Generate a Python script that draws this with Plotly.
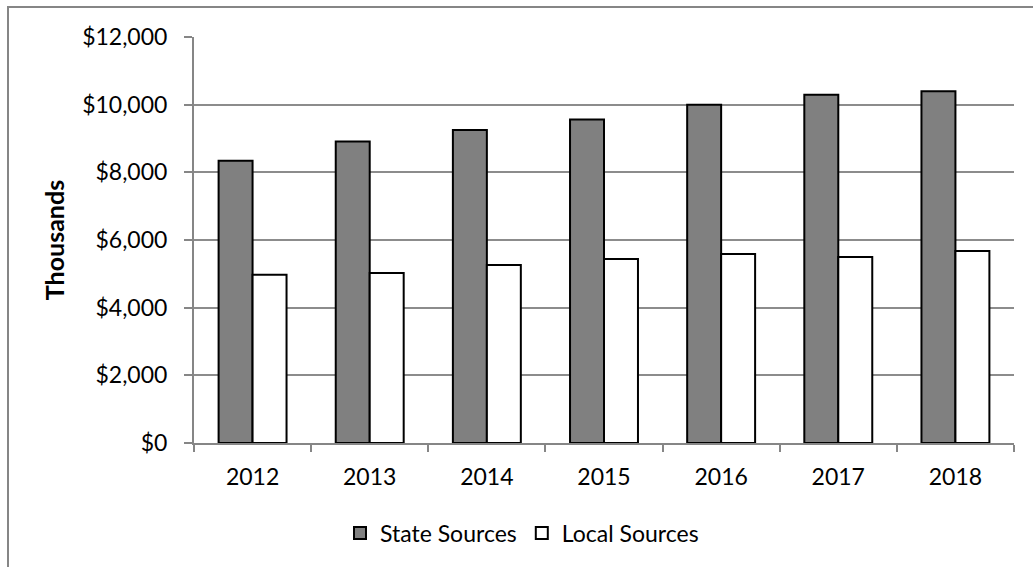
import plotly.graph_objects as go

years = ["2012", "2013", "2014", "2015", "2016", "2017", "2018"]
state_sources = [8340, 8910, 9250, 9565, 9995, 10295, 10395]
local_sources = [4975, 5025, 5262, 5439, 5585, 5498, 5676]
y_ticks = [0, 2000, 4000, 6000, 8000, 10000, 12000]
y_tick_labels = ["$0", "$2,000", "$4,000", "$6,000", "$8,000", "$10,000", "$12,000"]

FONT = "Lato"
W, H = 1033, 567
L, R, T, B = 194, 19, 37, 124
pw = W - L - R
ph = H - T - B

fig = go.Figure()
fig.add_trace(go.Bar(x=years, y=state_sources, name="State Sources",
                     marker=dict(color="#808080", line=dict(color="#000000", width=2))))
fig.add_trace(go.Bar(x=years, y=local_sources, name="Local Sources",
                     marker=dict(color="#ffffff", line=dict(color="#000000", width=2))))

fig.update_layout(
    width=W, height=H,
    margin=dict(l=L, r=R, t=T, b=B),
    paper_bgcolor="white", plot_bgcolor="white",
    barmode="group", bargap=0.42, bargroupgap=0,
    font=dict(family=FONT, size=23, color="#000000"),
    showlegend=True,
    legend=dict(orientation="h", x=(522 - L) / pw, xanchor="center",
                y=-(533 - T - ph) / ph, yanchor="middle",
                font=dict(family=FONT, size=23), itemwidth=30, traceorder="normal"),
    xaxis=dict(showline=True, linecolor="#868686", linewidth=2,
               ticks="outside", ticklen=7, tickcolor="#868686", tickwidth=1.5,
               tickson="boundaries", showgrid=False, ticklabelstandoff=12,
               tickfont=dict(family=FONT, size=23)),
    yaxis=dict(range=[0, 12000], tickvals=y_ticks, ticktext=y_tick_labels,
               showline=True, linecolor="#868686", linewidth=2,
               ticks="outside", ticklen=8, tickcolor="#868686", tickwidth=1.5,
               showgrid=True, gridcolor="#8c8c8c", gridwidth=1.5,
               zeroline=False, ticklabelstandoff=12,
               tickfont=dict(family=FONT, size=23),
               title=dict(text="<b>Thousands</b>", font=dict(family=FONT, size=25), standoff=10)),
)

# outer chart-area border (left and top edges visible)
fig.add_shape(type="rect", xref="paper", yref="paper",
              x0=(8 - L) / pw, x1=(W + 10 - L) / pw,
              y0=-(H + 10 - T - ph) / ph, y1=(ph + T - 7) / ph,
              line=dict(color="#868686", width=2), fillcolor="rgba(0,0,0,0)", layer="below")

fig.write_html("out.html")
